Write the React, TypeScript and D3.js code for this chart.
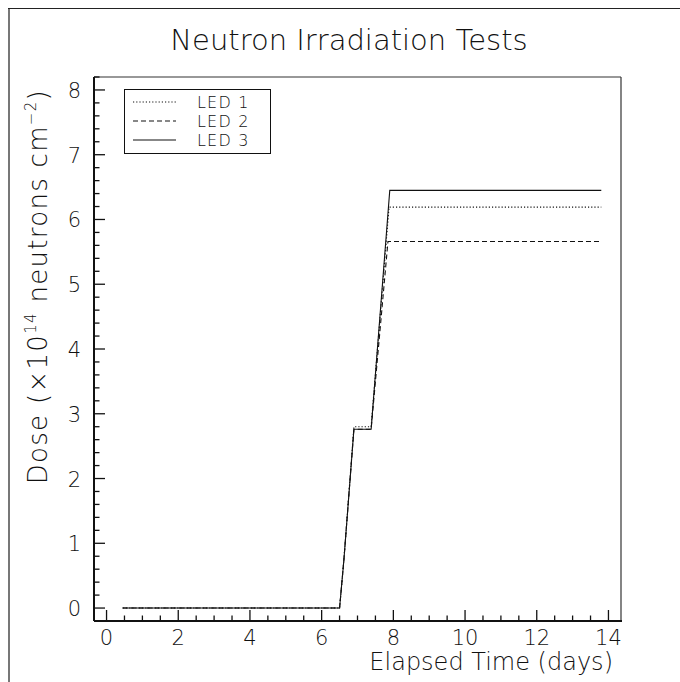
import React from "react";
import * as d3 from "d3";

// Elapsed time (days) and accumulated dose (x10^14 n/cm^2) for each LED
const led1Days = [0.45, 6.5, 6.62, 6.9, 7.38, 7.88, 13.8];
const led1Dose = [0, 0, 0.74, 2.8, 2.8, 6.19, 6.19];
const led2Days = [0.45, 6.5, 6.62, 6.9, 7.38, 7.85, 13.8];
const led2Dose = [0, 0, 0.74, 2.76, 2.76, 5.66, 5.66];
const led3Days = [0.45, 6.5, 6.62, 6.9, 7.38, 7.9, 13.8];
const led3Dose = [0, 0, 0.74, 2.76, 2.76, 6.45, 6.45];

const seriesNames = ["LED 1", "LED 2", "LED 3"];
const xTickValues = [0, 2, 4, 6, 8, 10, 12, 14];
const yTickValues = [0, 1, 2, 3, 4, 5, 6, 7, 8];

const W = 680;
const H = 682;
const FONT = "'DejaVu Sans', 'Liberation Sans', sans-serif";
const INK = "#111";

export default function App() {
  const x = d3.scaleLinear().domain([-0.35, 14.35]).range([94, 621]);
  const y = d3.scaleLinear().domain([-0.2, 8.2]).range([621, 77]);

  const line = d3
    .line<[number, number]>()
    .x((d) => x(d[0]))
    .y((d) => y(d[1]));

  const series = [
    { name: seriesNames[0], days: led1Days, dose: led1Dose, dash: "1.2 2" },
    { name: seriesNames[1], days: led2Days, dose: led2Dose, dash: "5 3" },
    { name: seriesNames[2], days: led3Days, dose: led3Dose, dash: "" },
  ];

  const [x0, x1] = x.range();
  const [y0, y1] = y.range();

  const xMinor = d3.range(0, 14.01, 0.5).filter((v) => v % 2 !== 0);
  const yMinor = d3
    .range(-0.2, 8.21, 0.2)
    .map((v) => Math.round(v * 10) / 10)
    .filter((v) => !Number.isInteger(v));

  return (
    <svg
      width={W}
      height={H}
      style={{ position: "absolute", left: 0, top: 0, background: "#fff" }}
      fontFamily={FONT}
      fontWeight={200}
    >
      {/* canvas border */}
      <line x1={9} y1={8} x2={9} y2={H} stroke="#777" strokeWidth={2} />
      <line x1={8} y1={8.5} x2={W} y2={8.5} stroke="#222" strokeWidth={1} />

      {/* title */}
      <text x={349} y={50} textAnchor="middle" fontSize={29} fill={INK}>
        Neutron Irradiation Tests
      </text>

      {/* frame */}
      <line x1={x0} y1={y1} x2={x1} y2={y1} stroke="#333" strokeWidth={1.2} />
      <line x1={x1} y1={y1} x2={x1} y2={y0} stroke="#333" strokeWidth={1.2} />
      <line x1={x0} y1={y0} x2={x1 + 1} y2={y0} stroke={INK} strokeWidth={2} />
      <line x1={x0} y1={y1} x2={x0} y2={y0} stroke={INK} strokeWidth={2} />

      {/* x ticks */}
      {xTickValues.map((v) => (
        <g key={"xt" + v}>
          <line x1={x(v)} x2={x(v)} y1={y0} y2={y0 - 11} stroke={INK} strokeWidth={1.3} />
          <text x={x(v)} y={y0 + 24} textAnchor="middle" fontSize={21} fill={INK}>
            {v}
          </text>
        </g>
      ))}
      {xMinor.map((v) => (
        <line key={"xm" + v} x1={x(v)} x2={x(v)} y1={y0} y2={y0 - 5.5} stroke={INK} strokeWidth={1.3} />
      ))}

      {/* y ticks */}
      {yTickValues.map((v) => (
        <g key={"yt" + v}>
          <line x1={x0} x2={x0 + 11} y1={y(v)} y2={y(v)} stroke={INK} strokeWidth={1.3} />
          <text x={x0 - 13} y={y(v) + 8} textAnchor="end" fontSize={21} fill={INK}>
            {v}
          </text>
        </g>
      ))}
      {yMinor.map((v) => (
        <line key={"ym" + v} x1={x0} x2={x0 + 5.5} y1={y(v)} y2={y(v)} stroke={INK} strokeWidth={1.3} />
      ))}

      {/* axis titles */}
      <text x={x1 - 8} y={670} textAnchor="end" fontSize={24} fill={INK}>
        Elapsed Time (days)
      </text>
      <text
        transform={`translate(47, ${y1 + 12}) rotate(-90)`}
        textAnchor="end"
        fontSize={26}
        letterSpacing={1.3}
        fill={INK}
      >
        Dose (×10
        <tspan fontSize={15} dy={-11}>14</tspan>
        <tspan dy={11}> neutrons cm</tspan>
        <tspan fontSize={15} dy={-11}>−2</tspan>
        <tspan dy={11}>)</tspan>
      </text>

      {/* data */}
      {series.map((s) => (
        <path
          key={s.name}
          d={line(s.days.map((d, i) => [d, s.dose[i]] as [number, number])) || ""}
          fill="none"
          stroke={INK}
          strokeWidth={1.1}
          strokeDasharray={s.dash || undefined}
        />
      ))}

      {/* legend */}
      <rect x={124.5} y={89.5} width={146} height={64} fill="#fff" stroke={INK} strokeWidth={1} />
      {series.map((s, i) => (
        <g key={"lg" + s.name}>
          <line
            x1={133}
            x2={176}
            y1={102 + i * 19}
            y2={102 + i * 19}
            stroke={INK}
            strokeWidth={1.1}
            strokeDasharray={s.dash || undefined}
          />
          <text x={197} y={108 + i * 19} fontSize={16} letterSpacing={1.2} fill={INK}>
            {s.name}
          </text>
        </g>
      ))}
    </svg>
  );
}
